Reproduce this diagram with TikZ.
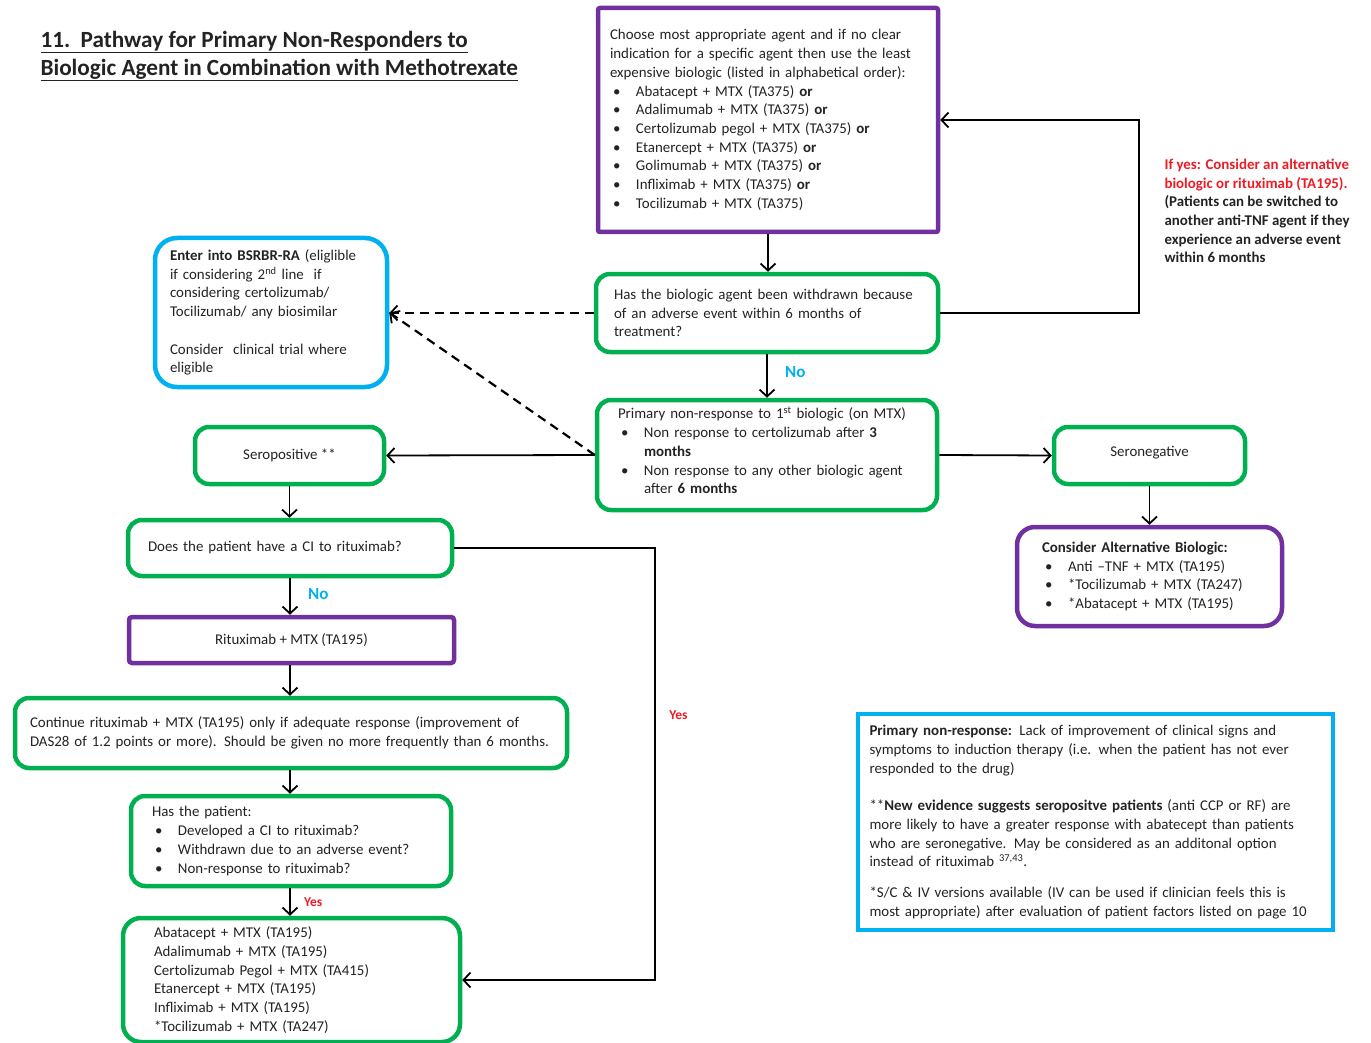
\documentclass[tikz,border=0pt]{standalone}
\usepackage{fontspec}
\setmainfont{Carlito}
\usepackage{xcolor}
\definecolor{nhsgreen}{RGB}{0,176,80}
\definecolor{boxpurple}{RGB}{112,48,160}
\definecolor{boxblue}{RGB}{0,176,240}
\definecolor{yesred}{RGB}{237,28,36}
\definecolor{textgray}{RGB}{35,35,35}
\usetikzlibrary{arrows.meta, positioning}

\newcommand{\bul}{\makebox[26pt][l]{\hspace{3pt}\textbullet}}
\newcommand{\bulgap}{\hspace*{26pt}}

\begin{document}
\begin{tikzpicture}[
        x=1pt, y=-1pt,
        every node/.style={font=\fontsize{14.9}{18.7}\selectfont, text=textgray},
        greenbox/.style={rectangle, rounded corners=14pt, draw=nhsgreen, line width=4.5pt, fill=white, inner ysep=0pt, align=left},
        purplebox/.style={rectangle, rounded corners=16pt, draw=boxpurple, line width=4.5pt, fill=white, inner ysep=0pt, align=left},
        bluebox/.style={rectangle, rounded corners=22pt, draw=boxblue, line width=4.5pt, fill=white, inner ysep=0pt, align=left},
        arrow/.style={line width=1.8pt, draw=black, -{Straight Barb[length=7pt, width=15pt, line width=1.8pt]}},
        dasharrow/.style={arrow, dash pattern=on 9pt off 6pt, line width=2.2pt},
        nolabel/.style={font=\fontsize{17}{20}\selectfont\bfseries, text=boxblue},
        yeslabel/.style={font=\fontsize{13.5}{16}\selectfont\bfseries, text=yesred}
    ]
    \useasboundingbox (0,0) rectangle (1371,1043);

    % heading
    \node[anchor=west, font=\fontsize{23.2}{28}\selectfont\bfseries, align=left] (title) at (37,56)
        {\underline{11.\ \ Pathway for Primary Non-Responders to}\\
         \underline{Biologic Agent in Combination with Methotrexate}};

    % first line choice
    \node[purplebox, rounded corners=2pt, minimum width=340pt, minimum height=224pt, text width=316pt, inner xsep=12pt] (choose) at (768,120)
        {Choose most appropriate agent and if no clear\\
         indication for a specific agent then use the least\\
         expensive biologic (listed in alphabetical order):\\
         \bul Abatacept + MTX (TA375) \textbf{or}\\
         \bul Adalimumab + MTX (TA375) \textbf{or}\\
         \bul Certolizumab pegol + MTX (TA375) \textbf{or}\\
         \bul Etanercept + MTX (TA375) \textbf{or}\\
         \bul Golimumab + MTX (TA375) \textbf{or}\\
         \bul Infliximab + MTX (TA375) \textbf{or}\\
         \bul Tocilizumab + MTX (TA375)};

    \node[greenbox, minimum width=342pt, minimum height=78pt, text width=306pt, inner xsep=18pt] (withdrawn) at (767,313)
        {Has the biologic agent been withdrawn because\\
         of an adverse event within 6 months of\\
         treatment?};

    \node[bluebox, minimum width=232pt, minimum height=149pt, text width=202pt, inner xsep=15pt] (bsrbr) at (271,312.5)
        {\textbf{Enter into BSRBR-RA} (eliglible\\
         if considering 2\textsuperscript{nd} line\ \ if\\
         considering certolizumab/\\
         Tocilizumab/ any biosimilar\\[18.7pt]
         Consider\ \ clinical trial where\\
         eligible};

    \node[anchor=west, align=left, font=\fontsize{14.9}{18.7}\selectfont\bfseries] (ifyes) at (1161,211)
        {\textcolor{yesred}{If yes: Consider an alternative}\\
         \textcolor{yesred}{biologic or rituximab (TA195).}\\
         (Patients can be switched to\\
         another anti-TNF agent if they\\
         experience an adverse event\\
         within 6 months};

    \node[greenbox, minimum width=340pt, minimum height=110pt, text width=298pt, inner xsep=21pt] (nonresp) at (767,455)
        {Primary non-response to 1\textsuperscript{st} biologic (on MTX)\\
         \bul Non response to certolizumab after \textbf{3}\\
         \bulgap\textbf{months}\\
         \bul Non response to any other biologic agent\\
         \bulgap after \textbf{6 months}\par\vspace*{9pt}};

    \node[greenbox, minimum width=189pt, minimum height=57pt, align=center] (seropos) at (289.5,455.5) {Seropositive **};
    \node[greenbox, minimum width=191pt, minimum height=57pt, align=center] (seroneg) at (1149.5,455.5) {Seronegative\\[-9.7pt]\mbox{}};

    \node[purplebox, rounded corners=18pt, minimum width=265pt, minimum height=99pt, text width=215pt, inner xsep=25pt] (altbio) at (1149.5,576.5)
        {\textbf{Consider Alternative Biologic:}\\
         \bul Anti --TNF + MTX (TA195)\\
         \bul *Tocilizumab + MTX (TA247)\\
         \bul *Abatacept + MTX (TA195)};

    % seropositive branch
    \node[greenbox, minimum width=324pt, minimum height=56pt, text width=284pt, inner xsep=20pt] (ci) at (290,548)
        {Does the patient have a CI to rituximab?};
    \node[purplebox, rounded corners=3pt, minimum width=325pt, minimum height=46pt, align=center] (ritux) at (291.5,640)
        {Rituximab + MTX (TA195)};
    \node[greenbox, minimum width=552pt, minimum height=70pt, text width=522pt, inner xsep=15pt] (continue) at (291,733)
        {Continue rituximab + MTX (TA195) only if adequate response (improvement of\\
         DAS28 of 1.2 points or more). Should be given no more frequently than 6 months.};
    \node[greenbox, minimum width=320pt, minimum height=90pt, text width=278pt, inner xsep=21pt] (haspatient) at (291,841)
        {Has the patient:\\
         \bul Developed a CI to rituximab?\\
         \bul Withdrawn due to an adverse event?\\
         \bul Non-response to rituximab?};
    \node[greenbox, rounded corners=18pt, minimum width=337pt, minimum height=124pt, text width=275pt, inner xsep=31pt] (options) at (291.5,980)
        {Abatacept + MTX (TA195)\\
         Adalimumab + MTX (TA195)\\
         Certolizumab Pegol + MTX (TA415)\\
         Etanercept + MTX (TA195)\\
         Infliximab + MTX (TA195)\\
         {}*Tocilizumab + MTX (TA247)};

    % definitions
    \node[rectangle, draw=boxblue, line width=3.5pt, minimum width=475pt, minimum height=216pt, text width=452pt, inner xsep=11.5pt, inner ysep=0pt, align=left] (legend) at (1095.5,822)
        {\textbf{Primary non-response:} Lack of improvement\ of clinical signs and\\
         symptoms to induction therapy (i.e. when the patient has not ever\\
         responded to the drug)\\[18.7pt]
         **\textbf{New evidence suggests seropositve patients} (anti CCP or RF) are\\
         more likely to have a greater response with abatecept than patients\\
         who are seronegative. May be considered as an additonal option\\
         instead of rituximab \textsuperscript{37,43}.\\[12pt]
         {}*S/C \& IV versions available (IV can be used\ if clinician feels this is\\
         most appropriate) after evaluation of patient factors listed on page 10};

    % connectors
    \draw[arrow] (choose.south) -- (choose.south |- withdrawn.north);
    \draw[arrow] (withdrawn.east) -- ++(199,0) |- (choose.east);
    \draw[dasharrow] (withdrawn.west) -- (withdrawn.west -| bsrbr.east);
    \draw[dasharrow] (nonresp.west) -- (bsrbr.east);
    \draw[arrow] (withdrawn.south) -- node[nolabel, right, xshift=14pt, yshift=4pt] {No} (nonresp.north);
    \draw[arrow] (nonresp.west) -- (seropos.east);
    \draw[arrow] (nonresp.east) -- (seroneg.west);
    \draw[arrow] (seroneg.south) -- (altbio.north);
    \draw[arrow] (seropos.south) -- (seropos.south |- ci.north);
    \draw[arrow] (ci.south) -- node[nolabel, right, xshift=14pt, yshift=2pt] {No} (ci.south |- ritux.north);
    \draw[arrow] (ci.south |- ritux.south) -- (ci.south |- continue.north);
    \draw[arrow] (ci.south |- continue.south) -- (ci.south |- haspatient.north);
    \draw[arrow] (ci.south |- haspatient.south) -- node[yeslabel, right, xshift=10pt] {Yes} (ci.south |- options.north);
    \draw[arrow] (ci.east) -- ++(201,0) |- node[yeslabel, pos=0.193, right, xshift=10pt] {Yes} (options.east);

\end{tikzpicture}
\end{document}
